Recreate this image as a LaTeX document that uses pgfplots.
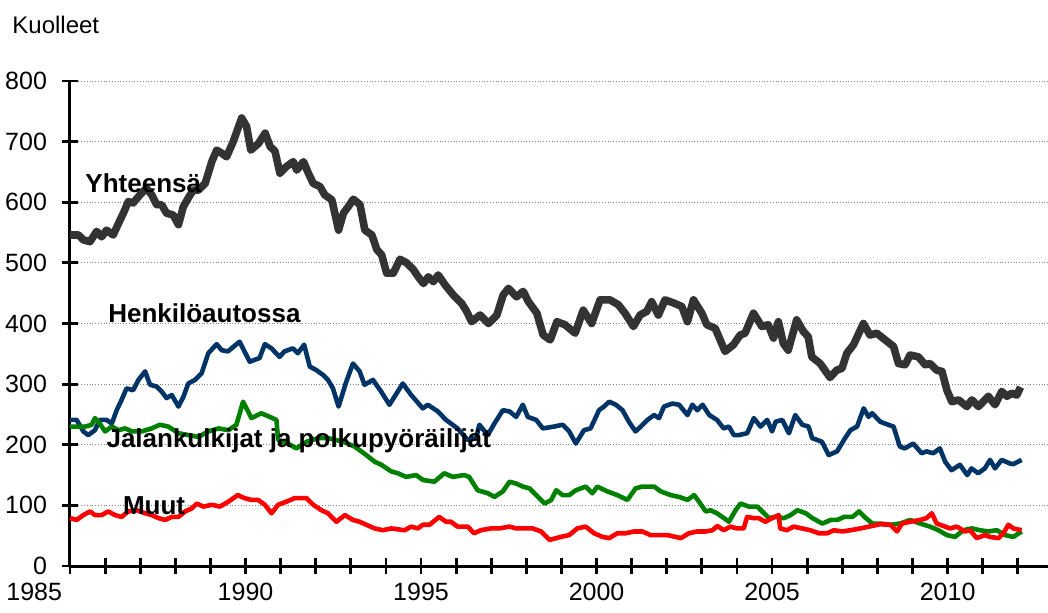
\documentclass[border=0pt]{standalone}
\usepackage{fontspec}
\setmainfont{Liberation Sans}
\usepackage{pgfplots}
\pgfplotsset{compat=1.18}
\definecolor{cTot}{HTML}{333333}
\definecolor{cCar}{HTML}{003366}
\definecolor{cPed}{HTML}{008000}
\definecolor{cOth}{HTML}{FF0000}
\begin{document}
\begin{tikzpicture}
\useasboundingbox (-35pt,-23pt) rectangle (489pt,283pt);
\begin{axis}[
  scale only axis,
  width=489pt, height=242.5pt,
  at={(0,0)}, anchor=south west,
  xmin=1985, xmax=2012.86,
  ymin=0, ymax=800,
  axis lines=left,
  axis line style={-, line width=1.5pt, black},
  xtick={1985,1990,1995,2000,2005,2010},
  xticklabels={\makebox[0pt][r]{1985\hspace{4pt}},1990,1995,2000,2005,2010},
  minor xtick={1986,1987,1988,1989,1991,1992,1993,1994,1996,1997,1998,1999,2001,2002,2003,2004,2006,2007,2008,2009,2011,2012},
  ytick={0,100,...,800},
  tick align=center,
  major tick length=8pt,
  minor tick length=8pt,
  every tick/.style={black, line width=1.4pt},
  minor tick style={black, line width=1.4pt},
  ymajorgrids,
  major grid style={gray, densely dotted, line width=0.5pt},
  /pgf/number format/assume math mode=true,
  /pgf/number format/1000 sep={},
  tick label style={font=\fontsize{12.5}{14}\selectfont},
  yticklabel style={xshift=-4pt},
  xticklabel style={yshift=-1pt},
  clip=false,
]
\addplot[cTot, line width=3.8pt, line join=round] coordinates {
(1985.00,546)(1985.24,546)(1985.38,538)(1985.57,535)(1985.76,552)(1985.90,543)(1986.04,554)(1986.23,546)(1986.38,565)(1986.52,582)(1986.66,601)(1986.80,599)(1986.99,612)(1987.18,623)(1987.33,612)(1987.47,596)(1987.61,596)(1987.75,582)(1987.94,579)(1988.09,563)(1988.23,593)(1988.37,607)(1988.51,620)(1988.66,620)(1988.85,631)(1989.04,667)(1989.18,686)(1989.32,681)(1989.46,675)(1989.65,700)(1989.89,739)(1990.03,725)(1990.15,686)(1990.37,697)(1990.56,714)(1990.70,692)(1990.84,684)(1990.98,648)(1991.17,659)(1991.36,667)(1991.46,653)(1991.65,667)(1991.79,648)(1991.93,631)(1992.12,626)(1992.26,612)(1992.46,604)(1992.65,554)(1992.79,582)(1992.93,593)(1993.07,605)(1993.26,596)(1993.40,554)(1993.60,546)(1993.74,522)(1993.88,513)(1994.02,483)(1994.21,483)(1994.40,506)(1994.59,500)(1994.78,489)(1994.92,477)(1995.07,466)(1995.21,477)(1995.35,469)(1995.49,480)(1995.68,464)(1995.92,447)(1996.16,433)(1996.30,420)(1996.44,403)(1996.68,414)(1996.92,400)(1997.16,414)(1997.34,447)(1997.49,458)(1997.72,444)(1997.91,453)(1998.06,436)(1998.30,417)(1998.48,381)(1998.68,373)(1998.87,403)(1999.10,398)(1999.39,384)(1999.62,422)(1999.86,400)(2000.10,439)(2000.38,439)(2000.62,431)(2000.81,417)(2001.05,395)(2001.24,414)(2001.43,420)(2001.57,436)(2001.76,414)(2001.95,439)(2002.19,434)(2002.43,428)(2002.59,403)(2002.76,439)(2003.00,417)(2003.14,398)(2003.38,392)(2003.66,354)(2003.90,365)(2004.09,381)(2004.23,384)(2004.47,417)(2004.71,395)(2004.89,398)(2005.04,376)(2005.18,403)(2005.32,367)(2005.46,356)(2005.70,406)(2005.89,387)(2006.03,378)(2006.13,345)(2006.37,334)(2006.65,311)(2006.84,323)(2006.99,326)(2007.13,351)(2007.32,365)(2007.60,400)(2007.79,381)(2007.98,384)(2008.22,373)(2008.46,362)(2008.60,334)(2008.79,332)(2008.93,348)(2009.17,345)(2009.36,332)(2009.50,334)(2009.69,323)(2009.84,321)(2009.98,290)(2010.12,271)(2010.31,274)(2010.55,263)(2010.69,274)(2010.88,263)(2011.16,280)(2011.35,266)(2011.54,288)(2011.69,280)(2011.83,285)(2011.97,282)(2012.08,295)
};
\addplot[cCar, line width=2.3pt, line join=round] coordinates {
(1985.00,241)(1985.19,241)(1985.38,222)(1985.52,216)(1985.71,224)(1985.85,241)(1986.04,241)(1986.19,235)(1986.33,257)(1986.47,274)(1986.61,293)(1986.80,290)(1986.95,307)(1987.14,321)(1987.28,299)(1987.47,296)(1987.61,288)(1987.75,277)(1987.90,282)(1988.09,263)(1988.23,279)(1988.37,301)(1988.56,307)(1988.75,318)(1988.94,351)(1989.18,366)(1989.32,356)(1989.50,354)(1989.83,370)(1990.12,337)(1990.40,343)(1990.55,366)(1990.74,359)(1990.97,345)(1991.11,354)(1991.35,359)(1991.49,351)(1991.67,365)(1991.83,329)(1992.02,323)(1992.21,315)(1992.35,307)(1992.49,293)(1992.65,263)(1992.87,304)(1993.06,334)(1993.25,321)(1993.39,299)(1993.63,307)(1993.86,288)(1994.10,266)(1994.48,301)(1994.72,282)(1995.05,260)(1995.19,266)(1995.48,255)(1995.71,241)(1996.04,227)(1996.33,208)(1996.57,211)(1996.66,233)(1996.90,216)(1997.09,235)(1997.33,257)(1997.52,255)(1997.71,246)(1997.90,266)(1998.04,246)(1998.28,241)(1998.47,227)(1998.79,230)(1999.03,233)(1999.22,222)(1999.41,202)(1999.64,224)(1999.83,227)(2000.07,257)(2000.21,263)(2000.36,271)(2000.55,266)(2000.74,257)(2000.92,238)(2001.11,222)(2001.26,230)(2001.45,241)(2001.64,249)(2001.78,244)(2001.92,263)(2002.16,268)(2002.35,266)(2002.59,249)(2002.73,266)(2002.87,257)(2003.02,266)(2003.21,249)(2003.43,241)(2003.62,227)(2003.77,230)(2003.91,216)(2004.05,216)(2004.29,219)(2004.48,244)(2004.67,230)(2004.86,241)(2005.00,222)(2005.10,238)(2005.29,241)(2005.48,219)(2005.66,249)(2005.86,233)(2006.04,230)(2006.14,211)(2006.42,205)(2006.61,183)(2006.85,189)(2007.08,211)(2007.23,224)(2007.42,230)(2007.61,260)(2007.75,246)(2007.85,252)(2008.08,238)(2008.31,233)(2008.46,230)(2008.64,197)(2008.78,194)(2009.02,202)(2009.26,186)(2009.40,189)(2009.59,186)(2009.78,194)(2009.93,172)(2010.11,158)(2010.35,167)(2010.56,150)(2010.68,161)(2010.87,153)(2011.06,161)(2011.21,175)(2011.35,161)(2011.54,175)(2011.78,169)(2011.87,168)(2012.11,175)
};
\addplot[cPed, line width=2.3pt, line join=round] coordinates {
(1985.00,230)(1985.43,230)(1985.62,233)(1985.71,244)(1985.85,235)(1986.00,222)(1986.19,230)(1986.38,224)(1986.57,227)(1986.76,222)(1987.04,222)(1987.33,227)(1987.56,233)(1987.80,230)(1988.09,219)(1988.37,216)(1988.66,213)(1988.94,222)(1989.23,227)(1989.51,224)(1989.74,233)(1989.93,271)(1990.17,244)(1990.45,252)(1990.69,246)(1990.88,241)(1990.93,208)(1991.21,202)(1991.45,194)(1991.74,205)(1992.07,211)(1992.35,211)(1992.78,205)(1993.11,197)(1993.44,183)(1993.68,172)(1993.87,167)(1994.15,156)(1994.34,153)(1994.57,147)(1994.86,150)(1995.05,142)(1995.38,139)(1995.66,153)(1995.90,147)(1996.23,150)(1996.37,147)(1996.61,125)(1996.90,120)(1997.09,114)(1997.33,123)(1997.52,139)(1997.71,136)(1997.90,131)(1998.09,128)(1998.33,114)(1998.52,103)(1998.71,109)(1998.85,125)(1999.03,117)(1999.22,117)(1999.41,125)(1999.69,131)(1999.88,120)(2000.02,131)(2000.31,123)(2000.59,117)(2000.88,109)(2001.11,128)(2001.30,131)(2001.64,131)(2001.83,123)(2002.11,117)(2002.35,114)(2002.59,109)(2002.78,117)(2002.92,106)(2003.11,90)(2003.25,92)(2003.43,87)(2003.58,81)(2003.77,73)(2003.96,92)(2004.10,103)(2004.34,98)(2004.58,98)(2004.77,87)(2004.91,79)(2005.10,81)(2005.34,79)(2005.53,84)(2005.72,92)(2005.96,87)(2006.15,79)(2006.43,70)(2006.67,76)(2006.86,76)(2007.05,81)(2007.29,81)(2007.48,90)(2007.67,79)(2007.86,70)(2008.08,70)(2008.37,68)(2008.65,70)(2008.93,76)(2009.22,70)(2009.50,65)(2009.74,59)(2009.98,51)(2010.21,48)(2010.45,59)(2010.69,62)(2010.92,59)(2011.16,57)(2011.40,59)(2011.64,51)(2011.87,48)(2012.11,57)
};
\addplot[cOth, line width=2.3pt, line join=round] coordinates {
(1985.00,79)(1985.19,76)(1985.38,84)(1985.57,90)(1985.71,84)(1985.90,84)(1986.09,90)(1986.28,84)(1986.47,81)(1986.66,90)(1986.90,92)(1987.14,87)(1987.33,84)(1987.52,79)(1987.71,76)(1987.90,81)(1988.09,81)(1988.28,90)(1988.47,95)(1988.61,103)(1988.80,98)(1989.04,101)(1989.27,98)(1989.51,106)(1989.78,117)(1989.97,112)(1990.17,109)(1990.36,109)(1990.55,101)(1990.74,87)(1990.93,101)(1991.16,106)(1991.40,112)(1991.74,112)(1991.93,101)(1992.16,92)(1992.35,87)(1992.59,73)(1992.83,84)(1993.06,76)(1993.25,73)(1993.44,68)(1993.68,62)(1993.91,59)(1994.15,62)(1994.53,59)(1994.72,65)(1994.91,62)(1995.05,68)(1995.24,68)(1995.52,81)(1995.71,73)(1995.85,73)(1996.04,65)(1996.33,65)(1996.51,54)(1996.70,59)(1996.99,62)(1997.23,62)(1997.52,65)(1997.71,62)(1997.94,62)(1998.18,62)(1998.42,57)(1998.66,43)(1998.85,46)(1998.98,48)(1999.22,51)(1999.45,62)(1999.69,65)(1999.93,54)(2000.17,48)(2000.36,46)(2000.59,54)(2000.83,54)(2001.07,57)(2001.30,57)(2001.54,51)(2001.78,51)(2002.02,51)(2002.25,48)(2002.40,46)(2002.63,54)(2002.87,57)(2003.11,57)(2003.30,59)(2003.44,66)(2003.62,59)(2003.81,65)(2004.00,62)(2004.19,62)(2004.29,81)(2004.48,79)(2004.62,79)(2004.81,73)(2005.00,79)(2005.19,84)(2005.23,62)(2005.42,59)(2005.61,65)(2005.85,62)(2006.09,59)(2006.33,54)(2006.57,54)(2006.76,59)(2007.00,57)(2007.23,59)(2007.52,62)(2007.76,65)(2008.08,69)(2008.37,68)(2008.56,57)(2008.70,70)(2008.93,73)(2009.22,76)(2009.40,79)(2009.55,87)(2009.69,70)(2009.93,65)(2010.07,62)(2010.26,65)(2010.49,57)(2010.64,59)(2010.83,46)(2011.06,51)(2011.21,48)(2011.45,46)(2011.59,54)(2011.73,68)(2011.87,62)(2012.11,59)
};
\node[anchor=west, inner sep=0pt, font=\fontsize{13}{15}\selectfont\bfseries] at (axis cs:1985.43,632) {Yhteensä};
\node[anchor=west, inner sep=0pt, font=\fontsize{13}{15}\selectfont\bfseries] at (axis cs:1986.08,417) {Henkilöautossa};
\node[anchor=west, inner sep=0pt, font=\fontsize{13}{15}\selectfont\bfseries] at (axis cs:1986.03,206) {Jalankulkijat ja polkupyöräilijät};
\node[anchor=west, inner sep=0pt, font=\fontsize{13}{15}\selectfont\bfseries] at (axis cs:1986.5,100) {Muut};
\end{axis}
\node[anchor=west, inner sep=0pt, font=\fontsize{12}{14}\selectfont] at (-29pt,270.5pt) {Kuolleet};
\end{tikzpicture}
\end{document}
